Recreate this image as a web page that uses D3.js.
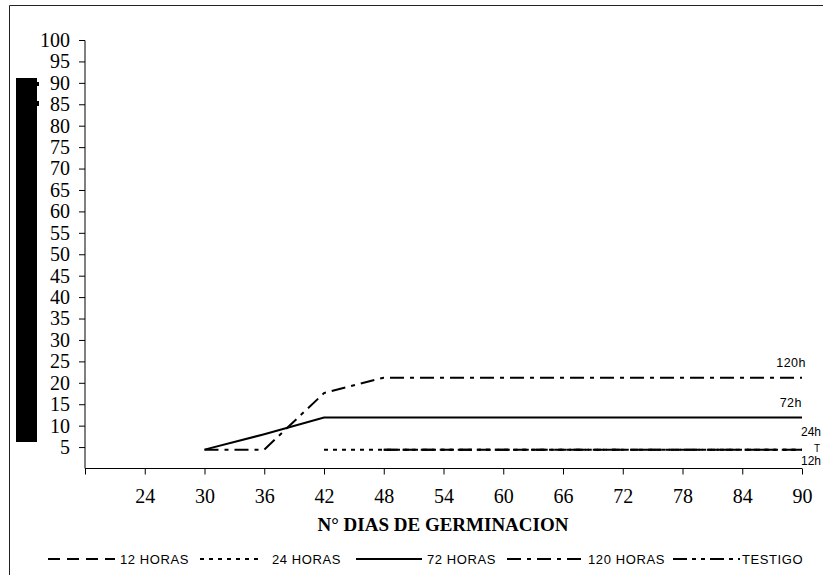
<!DOCTYPE html>
<html><head><meta charset="utf-8">
<script src="https://cdn.jsdelivr.net/npm/d3@7"></script>
<style>body{margin:0;background:#fff;}svg{display:block;}</style>
</head><body>
<svg id="c" width="823" height="575"></svg>
<script>
const xTicks = [18,24,30,36,42,48,54,60,66,72,78,84,90];
const xTickLabels = ["","24","30","36","42","48","54","60","66","72","78","84","90"];
const yTicks = [5,10,15,20,25,30,35,40,45,50,55,60,65,70,75,80,85,90,95,100];
const seriesNames = ["12 HORAS","24 HORAS","72 HORAS","120 HORAS","TESTIGO"];
const days = [30,36,42,48,54,60,66,72,78,84,90];
const h12  = [null,null,null,4.4,4.4,4.4,4.4,4.4,4.4,4.4,4.4];
const h24  = [null,null,4.4,4.4,4.4,4.4,4.4,4.4,4.4,4.4,4.4];
const h72  = [4.4,8.0,11.9,11.9,11.9,11.9,11.9,11.9,11.9,11.9,11.9];
const h120 = [4.4,4.4,17.6,21.2,21.2,21.2,21.2,21.2,21.2,21.2,21.2];
const testigo = [null,null,null,4.4,4.4,4.4,4.4,4.4,4.4,4.4,4.4];
const endLabels = ["12h","24h","72h","120h","T"];

const svg = d3.select("#c");
const x = d3.scaleLinear().domain([18,90]).range([85,802]);
const y = d3.scaleLinear().domain([0,100]).range([468.5,40]);

// frame (left and top edges visible)
svg.append("path").attr("d","M9.5,575V5.5H823").attr("fill","none").attr("stroke","#222").attr("stroke-width",1);
// redaction bar
svg.append("rect").attr("x",16).attr("y",78).attr("width",21).attr("height",364).attr("fill","#000");
svg.append("rect").attr("x",36).attr("y",82).attr("width",3).attr("height",4).attr("fill","#000");
svg.append("rect").attr("x",36).attr("y",101).attr("width",3).attr("height",5).attr("fill","#000");

// axes
const yAxis = d3.axisLeft(y).tickValues(yTicks).tickSize(6).tickPadding(9).tickFormat(d3.format("d"));
const gy = svg.append("g").attr("transform","translate(85,0)").call(yAxis);
gy.select(".domain").attr("d","M0,40.5V468.5").attr("stroke","#000");
gy.selectAll("text").attr("font-family","'Liberation Serif',serif").attr("font-size",20).attr("fill","#000");

const xAxis = d3.axisBottom(x).tickValues(xTicks).tickSize(6).tickPadding(14)
  .tickFormat((d,i)=>xTickLabels[i]);
const gx = svg.append("g").attr("transform","translate(0,468.5)").call(xAxis);
gx.select(".domain").attr("d","M85,0H802").attr("stroke","#000");
gx.selectAll("text").attr("font-family","'Liberation Serif',serif").attr("font-size",20).attr("fill","#000");

svg.append("text").attr("x",443).attr("y",531).attr("text-anchor","middle")
  .attr("font-family","'Liberation Serif',serif").attr("font-weight","bold").attr("font-size",19)
  .text("N° DIAS DE GERMINACION");

const dashes = ["12,7","4,5","none","14,6,4,6","14,5,4,5,4,5"];
const data = [h12,h24,h72,h120,testigo];
const line = d3.line().defined(d=>d[1]!==null).x(d=>x(d[0])).y(d=>y(d[1]));
[2,3,1,0,4].forEach(i=>{
  svg.append("path").datum(days.map((d,j)=>[d,data[i][j]]))
    .attr("d",line).attr("fill","none").attr("stroke","#000").attr("stroke-width",2)
    .attr("stroke-dasharray",dashes[i]==="none"?null:dashes[i]);
});

// end labels
const lab = svg.append("g").attr("font-family","'Liberation Sans',Arial,sans-serif").attr("font-size",12.5).attr("fill","#000");
lab.append("text").attr("x",806).attr("y",367).attr("text-anchor","end").attr("letter-spacing",0.5).text(endLabels[3]);
lab.append("text").attr("x",802).attr("y",407).attr("text-anchor","end").attr("letter-spacing",0.5).text(endLabels[2]);
lab.append("text").attr("x",821).attr("y",436).attr("text-anchor","end").attr("font-size",12).text(endLabels[1]);
lab.append("text").attr("x",821).attr("y",465).attr("text-anchor","end").attr("font-size",12).text(endLabels[0]);
lab.append("text").attr("x",814).attr("y",452).attr("font-size",10).text(endLabels[4]);

// legend
const legend = [
  {s:48,e:115,t:120},{s:200,e:262,t:272},{s:356,e:422,t:427},{s:507,e:586,t:588},{s:673,e:740,t:742}
];
legend.forEach((L,i)=>{
  svg.append("line").attr("x1",L.s).attr("x2",L.e).attr("y1",559).attr("y2",559)
    .attr("stroke","#000").attr("stroke-width",2)
    .attr("stroke-dasharray",dashes[i]==="none"?null:dashes[i]);
  svg.append("text").attr("x",L.t).attr("y",564).attr("font-family","'Liberation Sans',Arial,sans-serif")
    .attr("font-size",13).attr("letter-spacing",0.6).attr("fill","#000").text(seriesNames[i]);
});
</script>
</body></html>
